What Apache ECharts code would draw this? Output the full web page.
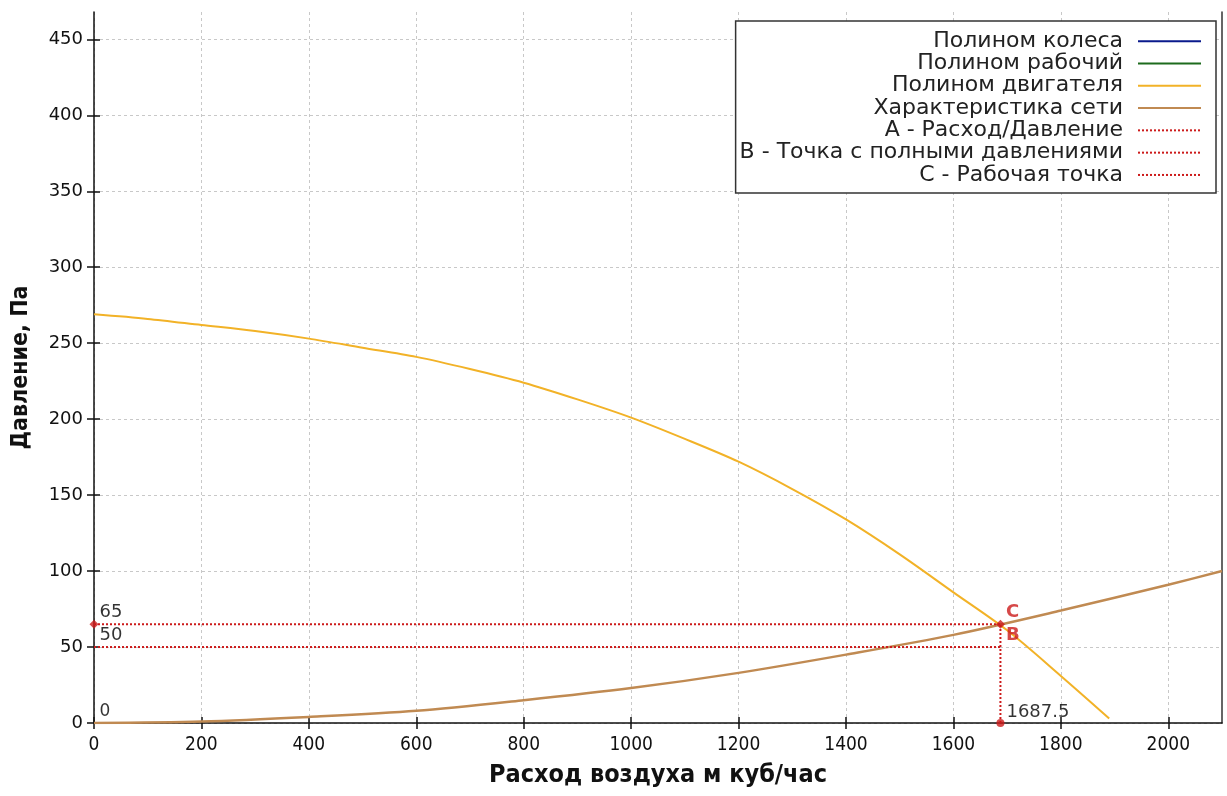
<!DOCTYPE html>
<html>
<head>
<meta charset="utf-8">
<script src="https://cdn.jsdelivr.net/npm/echarts@6/dist/echarts.min.js"></script>
<style>
html,body{margin:0;padding:0;background:#fff;}
#chart{width:1227px;height:796px;}
</style>
</head>
<body>
<div id="chart"></div>
<script>
// ---- data ----
const engineFlow     = [0, 100, 200, 300, 400, 500, 600, 700, 800, 900, 1000, 1100, 1200, 1300, 1400, 1500, 1600, 1700, 1800, 1890];
const enginePressure = [269, 266, 262, 258, 253, 247, 241, 233, 224, 213, 201, 187, 172, 154, 134, 111, 86, 61, 31, 3];
const networkFlow     = [0, 200, 400, 600, 800, 1000, 1200, 1400, 1600, 1800, 2000, 2100];
const networkPressure = [0, 1, 4, 8, 15, 23, 33, 45, 58, 74, 91, 100];
const wheelFlow = [], wheelPressure = [];
const workFlow = [], workPressure = [];
const opFlow = 1687.5;        // A: flow
const opPressure = 65;        // C: working point pressure
const fullPressure = 50;      // B: full pressure point
const xTicks = [0, 200, 400, 600, 800, 1000, 1200, 1400, 1600, 1800, 2000];
const yTicks = [0, 50, 100, 150, 200, 250, 300, 350, 400, 450];
const legendNames = ['Полином колеса', 'Полином рабочий', 'Полином двигателя', 'Характеристика сети',
  'A - Расход/Давление', 'B - Точка с полными давлениями', 'C - Рабочая точка'];

const zip = (a, b) => a.map((v, i) => [v, b[i]]);
const RED = '#cc1a1a';
const chart = echarts.init(document.getElementById('chart'), null, {renderer: 'canvas'});

const gridLine = {show: true, lineStyle: {color: '#c8c8c8', type: [3, 3], width: 1}};
const baseLbl = {fontFamily: 'DejaVu Sans', fontSize: 18, color: '#000', show: true,
  position: [10, 2], align: 'left', verticalAlign: 'bottom'};
const plain = v => String(v);

chart.setOption({
  animation: false,
  backgroundColor: '#fff',
  grid: {left: 94, right: 5, top: 12, bottom: 73, outerBoundsMode: 'none', containLabel: false},
  legend: {
    data: legendNames,
    orient: 'vertical', align: 'right',
    right: 11, top: 21,
    padding: [9, 14, 7, 4],
    itemGap: 0, itemWidth: 63, itemHeight: 22.3,
    itemStyle: {opacity: 0},
    backgroundColor: '#fff', borderColor: '#333', borderWidth: 1.5, borderRadius: 0,
    textStyle: {fontFamily: 'DejaVu Sans', fontSize: 22, color: '#222', lineHeight: 22.3, padding: [0, 10, 0, 0]},
    selectedMode: false
  },
  xAxis: [{
    type: 'value', min: 0, max: 2100, interval: 200,
    name: 'Расход воздуха м куб/час', nameLocation: 'middle', nameGap: 40,
    nameTextStyle: {fontFamily: 'DejaVu Sans Condensed', fontWeight: 'bold', fontSize: 25, color: '#111'},
    axisLine: {show: true, onZero: false, lineStyle: {color: '#111', width: 1.5}},
    axisTick: {show: true, length: 6, customValues: xTicks, lineStyle: {color: '#111', width: 1.5}},
    axisLabel: {customValues: xTicks, formatter: plain, margin: 13, fontFamily: 'DejaVu Sans Condensed', fontSize: 19, color: '#111'},
    splitLine: gridLine
  }, {
    type: 'value', min: 0, max: 2100, interval: 200, position: 'bottom',
    axisLine: {show: false},
    axisTick: {show: true, inside: true, length: 6, customValues: xTicks, lineStyle: {color: '#111', width: 1.5}},
    axisLabel: {show: false}, splitLine: {show: false}
  }],
  yAxis: [{
    type: 'value', min: 0, max: 468, interval: 50,
    name: 'Давление, Па', nameLocation: 'middle', nameGap: 61, nameRotate: 90,
    nameTextStyle: {fontFamily: 'DejaVu Sans Condensed', fontWeight: 'bold', fontSize: 23, color: '#111'},
    axisLine: {show: true, onZero: false, lineStyle: {color: '#111', width: 1.5}},
    axisTick: {show: true, length: 7, customValues: yTicks, lineStyle: {color: '#111', width: 1.5}},
    axisLabel: {customValues: yTicks, formatter: plain, margin: 11, fontFamily: 'DejaVu Sans', fontSize: 18, color: '#111'},
    splitLine: gridLine
  }, {
    type: 'value', min: 0, max: 468, interval: 50, position: 'left',
    axisLine: {show: false},
    axisTick: {show: true, inside: true, length: 6, customValues: yTicks, lineStyle: {color: '#111', width: 1.5}},
    axisLabel: {show: false}, splitLine: {show: false}
  }, {
    type: 'value', min: 0, max: 468, position: 'right',
    axisLine: {show: true, onZero: false, lineStyle: {color: '#333', width: 1.5}},
    axisTick: {show: false}, axisLabel: {show: false}, splitLine: {show: false}
  }],
  series: [
    {name: legendNames[0], type: 'line', symbol: 'none', data: zip(wheelFlow, wheelPressure),
      lineStyle: {color: '#0a1a8c', width: 2.5}, itemStyle: {color: '#0a1a8c'}},
    {name: legendNames[1], type: 'line', symbol: 'none', data: zip(workFlow, workPressure),
      lineStyle: {color: '#1d6b1d', width: 2.5}, itemStyle: {color: '#1d6b1d'}},
    {name: legendNames[2], type: 'line', symbol: 'none', smooth: 0.3, data: zip(engineFlow, enginePressure),
      lineStyle: {color: '#f2b227', width: 2}, itemStyle: {color: '#f2b227'}, z: 3},
    {name: legendNames[3], type: 'line', symbol: 'none', smooth: 0.3, data: zip(networkFlow, networkPressure),
      lineStyle: {color: '#c08a52', width: 2.5}, itemStyle: {color: '#c08a52'}, z: 4},
    {name: legendNames[4], type: 'line', symbol: 'none',
      data: [[opFlow, 0], [opFlow, opPressure]],
      lineStyle: {color: RED, width: 2, type: 'dotted'}, itemStyle: {color: RED}, z: 5},
    {name: legendNames[5], type: 'line', symbol: 'none',
      data: [[0, fullPressure], [opFlow, fullPressure]],
      lineStyle: {color: RED, width: 2, type: 'dotted'}, itemStyle: {color: RED}, z: 5},
    {name: legendNames[6], type: 'line', symbol: 'none',
      data: [[0, opPressure], [opFlow, opPressure]],
      lineStyle: {color: RED, width: 2, type: 'dotted'}, itemStyle: {color: RED}, z: 5},
    {name: 'points', type: 'scatter', symbol: 'diamond', symbolSize: 9, z: 6,
      itemStyle: {color: RED}, label: baseLbl,
      data: [
        {value: [0, opPressure], label: {formatter: String(opPressure), color: '#000'}},
        {value: [0, fullPressure], itemStyle: {color: 'rgba(0,0,0,0)'}, label: {formatter: String(fullPressure), color: '#000'}},
        {value: [0, 0], itemStyle: {color: 'rgba(0,0,0,0)'}, label: {formatter: '0', fontSize: 17, color: '#000'}},
        {value: [opFlow, opPressure], label: {formatter: 'C', color: RED, fontWeight: 'bold'}},
        {value: [opFlow, fullPressure], itemStyle: {color: 'rgba(0,0,0,0)'}, label: {formatter: 'B', color: RED, fontWeight: 'bold'}},
        {value: [opFlow, 0], symbol: 'circle', symbolSize: 8, label: {formatter: String(opFlow), color: '#000'}}
      ]}
  ]
});
</script>
</body>
</html>
